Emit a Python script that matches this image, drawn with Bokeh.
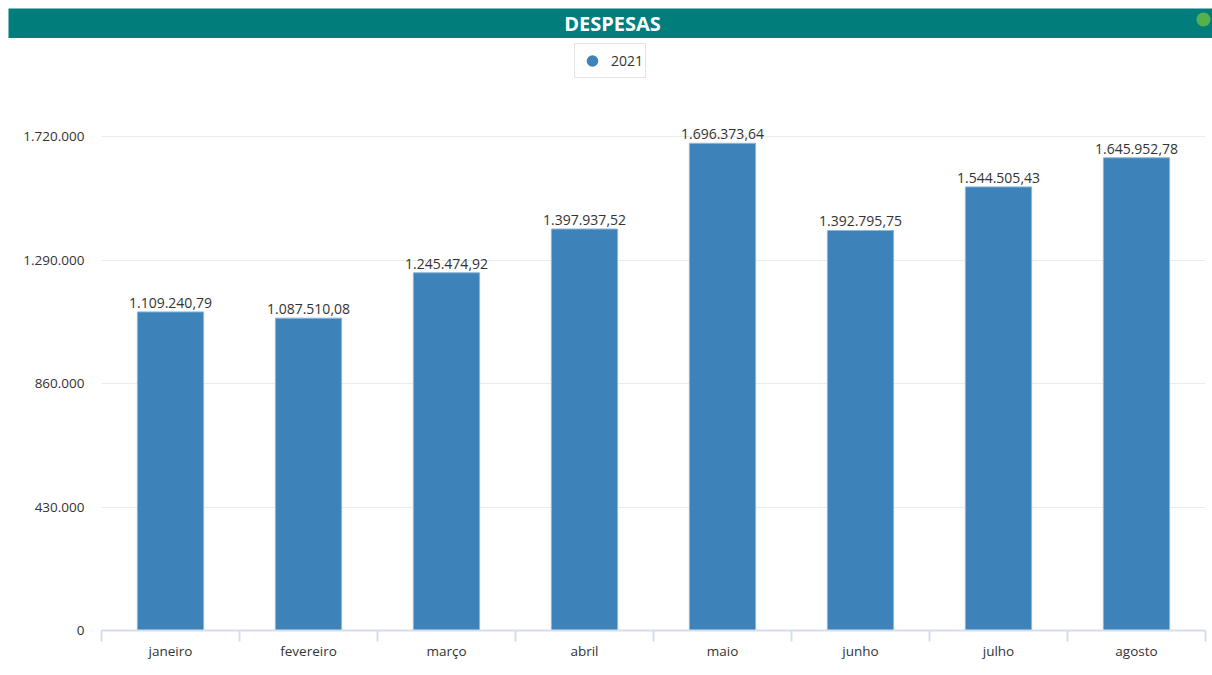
from bokeh.plotting import figure
from bokeh.models import (ColumnDataSource, FixedTicker, Legend, LegendItem, Range1d)
from bokeh.layouts import column
from bokeh.embed import file_html
from bokeh.resources import INLINE
from bokeh.core.properties import value

# ---- data ----
months = ["janeiro", "fevereiro", "março", "abril", "maio", "junho", "julho", "agosto"]
despesas_2021 = [1109240.79, 1087510.08, 1245474.92, 1397937.52,
                 1696373.64, 1392795.75, 1544505.43, 1645952.78]
y_ticks = [0, 430000, 860000, 1290000, 1720000]
y_tick_labels = ["0", "430.000", "860.000", "1.290.000", "1.720.000"]
series_name = "2021"
title_text = "DESPESAS"

FONT = "Open Sans"
W = 1204
HEAD_H = 30
MAIN_H = 637


def br_fmt(v):
    s = f"{v:,.2f}"
    return s.replace(",", "X").replace(".", ",").replace("X", ".")


# ---- header ----
head = figure(width=W, height=HEAD_H, output_backend="svg", toolbar_location=None,
              x_range=Range1d(0, W), y_range=Range1d(0, HEAD_H),
              min_border=0, min_border_left=0, min_border_right=0,
              min_border_top=0, min_border_bottom=0)
head.frame_align = False
head.axis.visible = False
head.grid.visible = False
head.outline_line_color = None
head.background_fill_color = "#017d7c"
head.border_fill_color = "#017d7c"
head.text(x=[604], y=[HEAD_H / 2], text=[title_text], text_color="white",
          text_font=value(FONT), text_font_style="bold", text_font_size="20px",
          text_align="center", text_baseline="middle")
head.scatter(x=[1195], y=[HEAD_H - 11], size=14, color="#56b14d", line_color=None)

# ---- main chart ----
xs = [i + 1 for i in range(len(months))]
src = ColumnDataSource(dict(x=xs, y=despesas_2021,
                            lab=[br_fmt(v) for v in despesas_2021]))

frame_bottom_px = 45
frame_top_px = 2
frame_h = MAIN_H - frame_bottom_px - frame_top_px
px_per_unit = 494 / 1720000
y_end = frame_h / px_per_unit

p = figure(width=W, height=MAIN_H, output_backend="svg", toolbar_location=None,
           x_range=Range1d(0.5, len(months) + 0.5), y_range=Range1d(0, y_end),
           min_border_left=93, min_border_right=7,
           min_border_top=frame_top_px, min_border_bottom=frame_bottom_px)
p.frame_align = False
p.outline_line_color = None
p.xgrid.visible = False
p.ygrid.ticker = FixedTicker(ticks=y_ticks)
p.ygrid.grid_line_color = "#ebebeb"
p.ygrid.grid_line_width = 1

bars = p.vbar(x="x", top="y", width=0.48, source=src, fill_color="#3d82b8",
              line_color="#8fb6d8", line_width=1)
p.text(x="x", y="y", text="lab", source=src, text_align="center",
       text_baseline="bottom", y_offset=-4, text_font=value(FONT),
       text_font_size="14px", text_color="#333333")

# x axis: labels at centers, boundary ticks as minor ticks
bounds = [i + 0.5 for i in range(len(months) + 1)]
xa = p.xaxis[0]
xa.ticker = FixedTicker(ticks=xs, minor_ticks=bounds)
xa.major_label_overrides = {x: m for x, m in zip(xs, months)}
xa.major_tick_out = 0
xa.major_tick_in = 0
xa.minor_tick_out = 11
xa.minor_tick_in = 0
xa.minor_tick_line_color = "#d5dded"
xa.axis_line_color = "#d5dded"
xa.axis_line_width = 2
xa.minor_tick_line_width = 2
xa.major_label_standoff = 0
xa.major_label_text_font = FONT
xa.major_label_text_font_size = "13.5px"
xa.major_label_text_color = "#333333"

ya = p.yaxis[0]
ya.ticker = FixedTicker(ticks=y_ticks)
ya.major_label_overrides = {t: l for t, l in zip(y_ticks, y_tick_labels)}
ya.axis_line_color = None
ya.major_tick_line_color = None
ya.minor_tick_line_color = None
ya.major_label_standoff = 11
ya.major_label_text_font = FONT
ya.major_label_text_font_size = "13.5px"
ya.major_label_text_color = "#333333"

# legend with circle marker (proxy renderer placed outside the visible x range)
dot = p.scatter(x=[0], y=[0], marker="circle", size=13, fill_color="#3d82b8",
                line_color=None)
legend = Legend(items=[LegendItem(label=series_name, renderers=[dot])],
                location=(473, frame_h - 38), orientation="horizontal",
                glyph_width=30, glyph_height=29, padding=2, spacing=0,
                label_standoff=4, label_text_font=FONT, label_text_font_size="14px",
                label_text_color="#333333", border_line_color="#c8c8c8",
                border_line_width=1, background_fill_alpha=1, margin=0)
p.add_layout(legend)

layout = column(head, p, spacing=0, margin=(8, 0, 0, 8))
open("out.html", "w").write(file_html(layout, INLINE))
